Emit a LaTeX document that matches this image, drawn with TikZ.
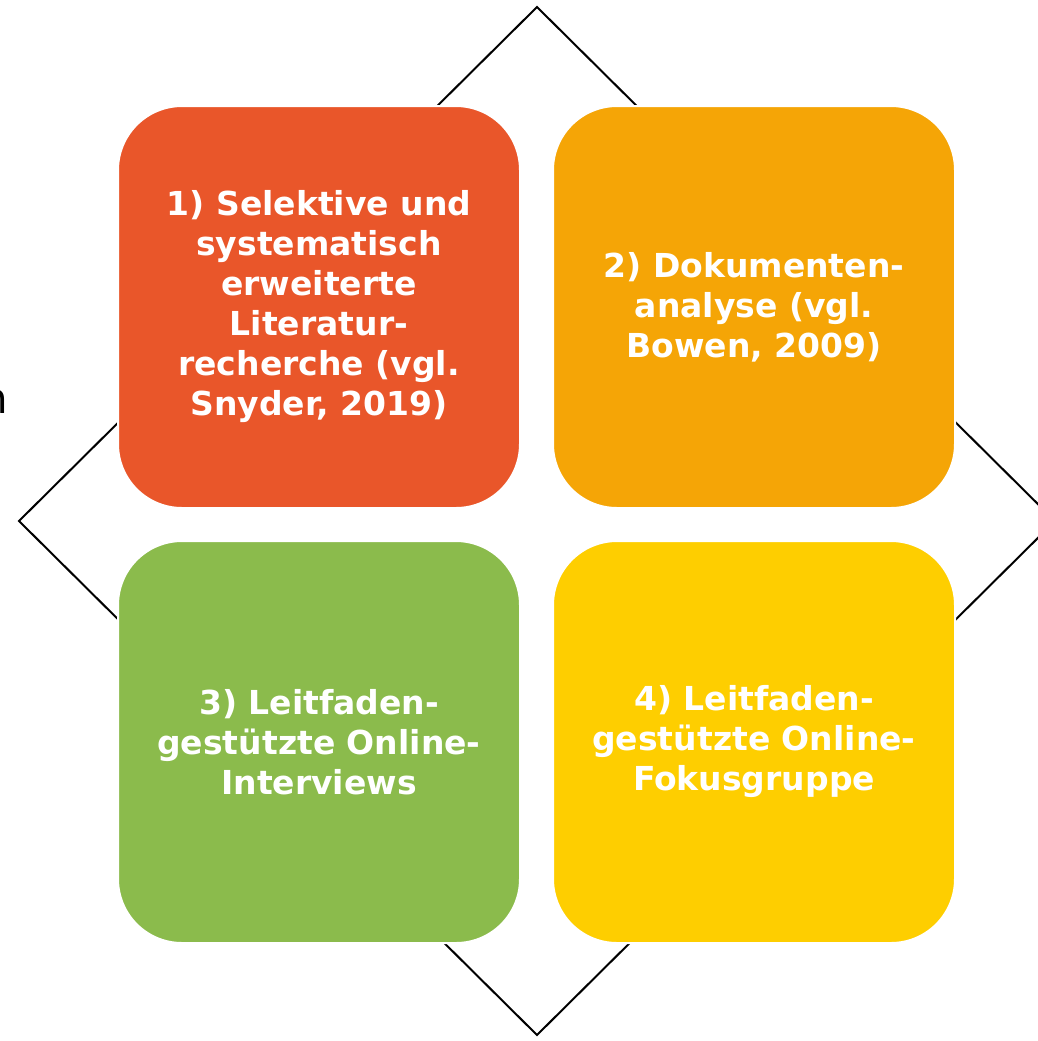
\documentclass[tikz,border=0pt]{standalone}
\usepackage{fontspec}
\setmainfont{DejaVu Sans}
\usepackage{tikz}
\usepackage{xcolor}
\definecolor{boxred}{HTML}{E9562A}
\definecolor{boxorange}{HTML}{F5A506}
\definecolor{boxgreen}{HTML}{8BBB4C}
\definecolor{boxyellow}{HTML}{FECE00}
\begin{document}
\begin{tikzpicture}[x=0.5pt, y=-0.5pt,
    tile/.style={draw=white, line width=1pt, rounded corners=32pt, minimum size=201pt,
      inner sep=0pt, text=white, align=center,
      font=\fontsize{16.5}{20}\selectfont\bfseries}]
                \useasboundingbox (0,0) rectangle (1038,1041);
                \clip (0,0) rectangle (1038,1041);
                \coordinate (top) at (537,7);
                \coordinate (right) at (1055,521);
                \coordinate (bottom) at (537,1035);
                \coordinate (left) at (19,521);
                \draw[line width=1pt] (top) -- (right) -- (bottom) -- (left) -- cycle;
                \node[tile, fill=boxred](b1) at (319,307){1) Selektive und\\systematisch\\erweiterte\\Literatur-\\recherche (vgl.\\Snyder, 2019)};
                \node[tile, fill=boxorange](b2) at (754,307){2) Dokumenten-\\analyse (vgl.\\Bowen, 2009)};
                \node[tile, fill=boxgreen](b3) at (319,742){3) Leitfaden-\\gestützte Online-\\Interviews};
                \node[tile, fill=boxyellow](b4) at (754,742){4) Leitfaden-\\gestützte Online-\\Fokusgruppe};
                \node[anchor=base east, inner sep=0pt, font=\fontsize{21}{25}\selectfont](cut) at (9,413){n};
\end{tikzpicture}
\end{document}
